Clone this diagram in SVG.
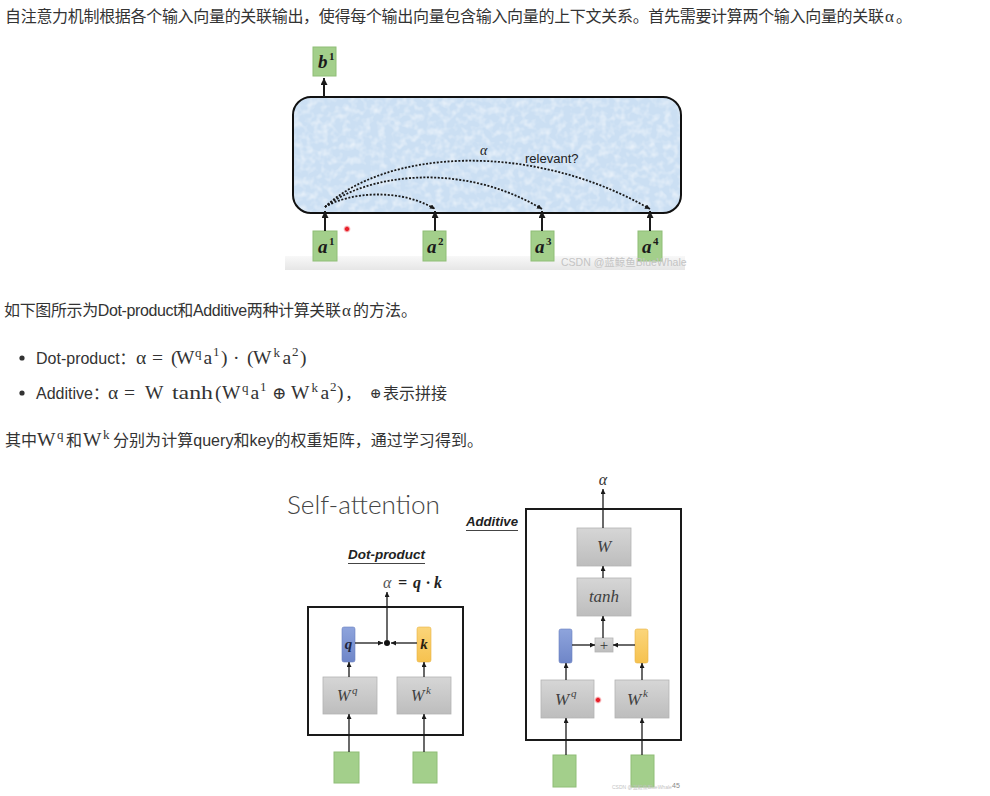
<svg xmlns="http://www.w3.org/2000/svg" width="990" height="796" viewBox="0 0 990 796">
<style>
.cn{font-family:"Liberation Sans","Noto Sans CJK SC",sans-serif;font-size:16px;fill:#333}
.mt{font-family:"Liberation Serif","DejaVu Serif",serif;font-size:19.5px;fill:#333}
.ms{font-family:"Liberation Serif","DejaVu Serif",serif;font-size:13px;fill:#333}
.lbl{font-family:"Liberation Serif","DejaVu Serif",serif;font-style:italic;font-weight:bold;font-size:19px;fill:#1a1a1a}
.lbls{font-family:"Liberation Serif","DejaVu Serif",serif;font-weight:bold;font-size:11px;fill:#1a1a1a}
.gbox{fill:#a3cf8b;stroke:#8fbe77;stroke-width:1}
.wbox{fill:url(#gray);stroke:#b3b3b3;stroke-width:0.8}
.wt{font-family:"Liberation Serif","DejaVu Serif",serif;font-style:italic;font-size:16px;fill:#404040}
.wts{font-family:"Liberation Serif","DejaVu Serif",serif;font-style:italic;font-size:11px;fill:#404040}
.frame{fill:none;stroke:#1a1a1a;stroke-width:2}
.ar{stroke:#1a1a1a;stroke-width:1.3;fill:none}
.arT{stroke:#1a1a1a;stroke-width:2;fill:none}
.dot{stroke:#1a1a1a;stroke-width:1.8;fill:none;stroke-dasharray:2 1.6}
.hd{font-family:"Liberation Sans","DejaVu Sans",sans-serif;font-weight:bold;font-style:italic;font-size:13px;fill:#222}
.eq{font-family:"Liberation Serif",serif;font-style:italic;font-weight:bold;font-size:16px;fill:#222}
</style>
<defs>
<linearGradient id="gray" x1="0" y1="0" x2="0" y2="1">
<stop offset="0" stop-color="#d6d6d6"/><stop offset="1" stop-color="#bdbdbd"/>
</linearGradient>
<linearGradient id="blue" x1="0" y1="0" x2="0" y2="1">
<stop offset="0" stop-color="#8ea4dc"/><stop offset="1" stop-color="#6f86c8"/>
</linearGradient>
<linearGradient id="yel" x1="0" y1="0" x2="0" y2="1">
<stop offset="0" stop-color="#fbd57a"/><stop offset="1" stop-color="#f6c24f"/>
</linearGradient>
<linearGradient id="strip" x1="0" y1="0" x2="0" y2="1">
<stop offset="0" stop-color="#f8f8f8"/><stop offset="1" stop-color="#e6e6e6"/>
</linearGradient>
<radialGradient id="red"><stop offset="0.4" stop-color="#e8202a"/><stop offset="1" stop-color="#f7b0b4" stop-opacity="0"/></radialGradient>
<filter id="tex" x="0" y="0" width="1" height="1">
<feTurbulence type="fractalNoise" baseFrequency="0.14" numOctaves="2" seed="5" result="n"/>
<feColorMatrix in="n" type="matrix" values="0 0 0 0 1 0 0 0 0 1 0 0 0 0 1 1.1 0 0 0 -0.45" result="w"/>
<feComposite in="w" in2="SourceGraphic" operator="in"/>
</filter>
<marker id="ah" viewBox="0 0 10 10" refX="10" refY="5" markerWidth="5" markerHeight="5" orient="auto" markerUnits="userSpaceOnUse">
<path d="M0,0 L10,5 L0,10 z" fill="#1a1a1a"/>
</marker>
<marker id="ahT" viewBox="0 0 10 10" refX="10" refY="5" markerWidth="7" markerHeight="7" orient="auto" markerUnits="userSpaceOnUse">
<path d="M0,0 L10,5 L0,10 z" fill="#1a1a1a"/>
</marker>
</defs>
<rect width="990" height="796" fill="#fff"/>

<!-- paragraph text -->
<g id="text">
<text class="cn" x="5" y="22" textLength="879" lengthAdjust="spacing">自注意力机制根据各个输入向量的关联输出，使得每个输出向量包含输入向量的上下文关系。首先需要计算两个输入向量的关联</text>
<text class="mt" x="885" y="22" style="font-size:17px">α</text>
<text class="cn" x="896" y="22">。</text>

<text class="cn" x="4" y="316" textLength="337" lengthAdjust="spacing">如下图所示为Dot-product和Additive两种计算关联</text>
<text class="mt" x="342" y="316" style="font-size:17px">α</text>
<text class="cn" x="353" y="316">的方法。</text>

<circle cx="22" cy="358" r="2.6" fill="#333"/>
<text class="cn" x="36" y="364">Dot-product：</text>
<text class="mt" x="136" y="364">α</text>
<text class="mt" x="152" y="364">=</text>
<text class="mt" x="171" y="364">(</text>
<text class="mt" x="176" y="364">W</text>
<text class="ms" x="195" y="357">q</text>
<text class="mt" x="203.5" y="364">a</text>
<text class="ms" x="213" y="356">1</text>
<text class="mt" x="221" y="364">)</text>
<text class="mt" x="233" y="364">·</text>
<text class="mt" x="247" y="364">(</text>
<text class="mt" x="253" y="364">W</text>
<text class="ms" x="273.5" y="357">k</text>
<text class="mt" x="282.5" y="364">a</text>
<text class="ms" x="292" y="356">2</text>
<text class="mt" x="300" y="364">)</text>

<circle cx="22" cy="393" r="2.6" fill="#333"/>
<text class="cn" x="36" y="399">Additive：</text>
<text class="mt" x="108" y="399">α</text>
<text class="mt" x="124" y="399">=</text>
<text class="mt" x="145" y="399">W</text>
<text class="mt" x="172" y="399" textLength="41" lengthAdjust="spacingAndGlyphs">tanh</text>
<text class="mt" x="215" y="399">(</text>
<text class="mt" x="222" y="399">W</text>
<text class="ms" x="242" y="392">q</text>
<text class="mt" x="250.5" y="399">a</text>
<text class="ms" x="260" y="391">1</text>
<text class="mt" x="272" y="399" style="font-size:17px">⊕</text>
<text class="mt" x="291" y="399">W</text>
<text class="ms" x="311.5" y="392">k</text>
<text class="mt" x="320.5" y="399">a</text>
<text class="ms" x="330" y="391">2</text>
<text class="mt" x="337" y="399">)</text>
<text class="cn" x="345" y="399">，</text>
<text class="mt" x="370" y="398" style="font-size:14px">⊕</text>
<text class="cn" x="383" y="399">表示拼接</text>

<text class="cn" x="5" y="446">其中</text>
<text class="mt" x="37" y="446">W</text>
<text class="ms" x="57" y="439">q</text>
<text class="cn" x="66" y="446">和</text>
<text class="mt" x="83" y="446">W</text>
<text class="ms" x="103" y="439">k</text>
<text class="cn" x="113" y="446" textLength="370" lengthAdjust="spacing">分别为计算query和key的权重矩阵，通过学习得到。</text>
</g>

<!-- top figure -->
<g id="top-figure">
<rect x="285" y="256" width="400" height="14" fill="url(#strip)"/>
<g id="attention-block">
<rect x="293" y="97" width="388" height="116" rx="18" fill="#cbdff3"/>
<rect x="293" y="97" width="388" height="116" rx="18" fill="#000" filter="url(#tex)"/>
<rect x="293" y="97" width="388" height="116" rx="18" fill="none" stroke="#111" stroke-width="2"/>
<text x="480" y="155" style="font-family:'Liberation Serif',serif;font-style:italic;font-size:14px;fill:#222">α</text>
<text x="525" y="163" style="font-family:'Liberation Sans',sans-serif;font-size:13px;fill:#222">relevant?</text>
</g>
<g id="b1"><rect class="gbox" x="313" y="47" width="23" height="29"/>
<text class="lbl" x="318" y="68">b</text><text class="lbls" x="329" y="60">1</text></g>
<g id="a1"><rect class="gbox" x="313" y="231" width="24" height="30"/>
<text class="lbl" x="318" y="253">a</text><text class="lbls" x="329" y="245">1</text></g>
<g id="a2"><rect class="gbox" x="423" y="231" width="23" height="30"/>
<text class="lbl" x="427" y="253">a</text><text class="lbls" x="438" y="245">2</text></g>
<g id="a3"><rect class="gbox" x="531" y="231" width="23" height="30"/>
<text class="lbl" x="535" y="253">a</text><text class="lbls" x="546" y="245">3</text></g>
<g id="a4"><rect class="gbox" x="638" y="231" width="24" height="30"/>
<text class="lbl" x="642" y="253">a</text><text class="lbls" x="653" y="245">4</text></g>
<circle cx="347" cy="229" r="4" fill="url(#red)"/>
<text x="561" y="266" style="font-family:'Liberation Sans','Noto Sans CJK SC',sans-serif;font-size:10.5px;fill:#c4c4c4">CSDN @蓝鲸鱼BlueWhale</text>
</g>

<g id="top-connectors">
<line class="arT" x1="324" y1="97" x2="324" y2="78" marker-end="url(#ahT)"/>
<line class="arT" x1="325" y1="231" x2="325" y2="211" marker-end="url(#ahT)"/>
<line class="arT" x1="435" y1="231" x2="435" y2="211" marker-end="url(#ahT)"/>
<line class="arT" x1="542" y1="231" x2="542" y2="211" marker-end="url(#ahT)"/>
<line class="arT" x1="650" y1="231" x2="650" y2="211" marker-end="url(#ahT)"/>
<path class="dot" d="M325,207 C350,192 400,188 435,209" marker-end="url(#ah)"/>
<path class="dot" d="M325,207 C365,175 460,160 542,209" marker-end="url(#ah)"/>
<path class="dot" d="M325,207 C385,150 530,140 650,209" marker-end="url(#ah)"/>
</g>

<!-- bottom figure -->
<g id="bottom-figure">
<text x="287" y="514" textLength="153" lengthAdjust="spacingAndGlyphs" style="font-family:Lato,'Liberation Sans',sans-serif;font-weight:300;font-size:26px;fill:#444">Self-attention</text>

<g id="dot-product">
<text class="hd" x="348" y="559" textLength="77" lengthAdjust="spacingAndGlyphs">Dot-product</text>
<line x1="348" y1="563.5" x2="425" y2="563.5" stroke="#444" stroke-width="1"/>
<text x="383" y="588" style="font-family:'Liberation Serif',serif;font-style:italic;font-size:16px;fill:#555">α</text>
<text class="eq" x="398" y="588">=</text>
<text class="eq" x="413" y="588">q</text>
<text class="eq" x="426" y="588">·</text>
<text class="eq" x="434" y="588">k</text>
<rect class="frame" x="308" y="607" width="155" height="128"/>
</g>
<g id="dp-q"><rect x="342" y="627" width="13" height="35" rx="2" fill="url(#blue)" stroke="#6a80c0" stroke-width="0.6"/>
<text x="348.5" y="649" text-anchor="middle" class="lbl" style="font-size:15px;fill:#1e2640">q</text></g>
<g id="dp-k"><rect x="417" y="627" width="14" height="35" rx="2" fill="url(#yel)" stroke="#e8b445" stroke-width="0.6"/>
<text x="424" y="649" text-anchor="middle" class="lbl" style="font-size:15px;fill:#2a2010">k</text></g>
<g id="dp-dot"><circle cx="387" cy="643" r="3" fill="#111"/></g>
<g id="dp-wq"><rect class="wbox" x="323" y="677" width="54" height="37"/>
<text class="wt" x="337" y="701">W</text><text class="wts" x="352" y="694">q</text></g>
<g id="dp-wk"><rect class="wbox" x="397" y="677" width="54" height="37"/>
<text class="wt" x="411" y="701">W</text><text class="wts" x="426" y="694">k</text></g>
<g id="dp-in1"><rect class="gbox" x="334" y="752" width="25" height="31"/></g>
<g id="dp-in2"><rect class="gbox" x="413" y="752" width="24" height="31"/></g>

<g id="additive">
<text class="hd" x="466" y="526" textLength="52" lengthAdjust="spacingAndGlyphs">Additive</text>
<line x1="466" y1="530.5" x2="518" y2="530.5" stroke="#444" stroke-width="1"/>
<text x="603" y="485" text-anchor="middle" style="font-family:'Liberation Serif',serif;font-style:italic;font-size:16px;fill:#333">α</text>
<rect class="frame" x="526" y="509" width="155" height="231"/>
</g>
<g id="ad-w"><rect class="wbox" x="577" y="528" width="54" height="38"/>
<text class="wt" x="604" y="552" text-anchor="middle" style="font-size:17px">W</text></g>
<g id="ad-tanh"><rect class="wbox" x="577" y="578" width="54" height="38"/>
<text class="wt" x="604" y="602" text-anchor="middle" style="font-size:17px">tanh</text></g>
<g id="ad-q"><rect x="559" y="629" width="13" height="34" rx="2" fill="url(#blue)" stroke="#6a80c0" stroke-width="0.6"/></g>
<g id="ad-k"><rect x="635" y="629" width="13" height="34" rx="2" fill="url(#yel)" stroke="#e8b445" stroke-width="0.6"/></g>
<g id="ad-plus"><rect class="wbox" x="595" y="638" width="18" height="14"/>
<text x="604" y="650" text-anchor="middle" style="font-family:'Liberation Serif',serif;font-size:15px;fill:#333">+</text></g>
<g id="ad-wq"><rect class="wbox" x="541" y="680" width="53" height="38"/>
<text class="wt" x="555" y="705" style="font-size:17px">W</text><text class="wts" x="571" y="697">q</text></g>
<g id="ad-wk"><rect class="wbox" x="615" y="680" width="54" height="38"/>
<text class="wt" x="627" y="705" style="font-size:17px">W</text><text class="wts" x="643" y="697">k</text></g>
<g id="ad-in1"><rect class="gbox" x="553" y="755" width="23" height="32"/></g>
<g id="ad-in2"><rect class="gbox" x="631" y="755" width="23" height="32"/></g>
<circle cx="598" cy="700" r="4" fill="url(#red)"/>
<text x="612" y="789" style="font-family:'Liberation Sans','Noto Sans CJK SC',sans-serif;font-size:5px;fill:#c4c4c4">CSDN @蓝鲸鱼BlueWhale</text>
<text x="672" y="788" style="font-family:'Liberation Sans',sans-serif;font-size:7px;fill:#888">45</text>
</g>

<g id="bottom-connectors">
<line class="ar" x1="387" y1="640" x2="387" y2="592" marker-end="url(#ah)"/>
<line class="ar" x1="355" y1="643" x2="383" y2="643" marker-end="url(#ah)"/>
<line class="ar" x1="417" y1="643" x2="391" y2="643" marker-end="url(#ah)"/>
<line class="ar" x1="349" y1="677" x2="349" y2="662" marker-end="url(#ah)"/>
<line class="ar" x1="424" y1="677" x2="424" y2="662" marker-end="url(#ah)"/>
<line class="ar" x1="349" y1="752" x2="349" y2="714" marker-end="url(#ah)"/>
<line class="ar" x1="424" y1="752" x2="424" y2="714" marker-end="url(#ah)"/>
<line class="ar" x1="603" y1="528" x2="603" y2="489" marker-end="url(#ah)"/>
<line class="ar" x1="603" y1="578" x2="603" y2="566" marker-end="url(#ah)"/>
<line class="ar" x1="603" y1="638" x2="603" y2="616" marker-end="url(#ah)"/>
<line class="ar" x1="572" y1="645" x2="595" y2="645" marker-end="url(#ah)"/>
<line class="ar" x1="635" y1="645" x2="613" y2="645" marker-end="url(#ah)"/>
<line class="ar" x1="566" y1="680" x2="566" y2="663" marker-end="url(#ah)"/>
<line class="ar" x1="642" y1="680" x2="642" y2="663" marker-end="url(#ah)"/>
<line class="ar" x1="566" y1="755" x2="566" y2="718" marker-end="url(#ah)"/>
<line class="ar" x1="642" y1="755" x2="642" y2="718" marker-end="url(#ah)"/>
</g>
</svg>
